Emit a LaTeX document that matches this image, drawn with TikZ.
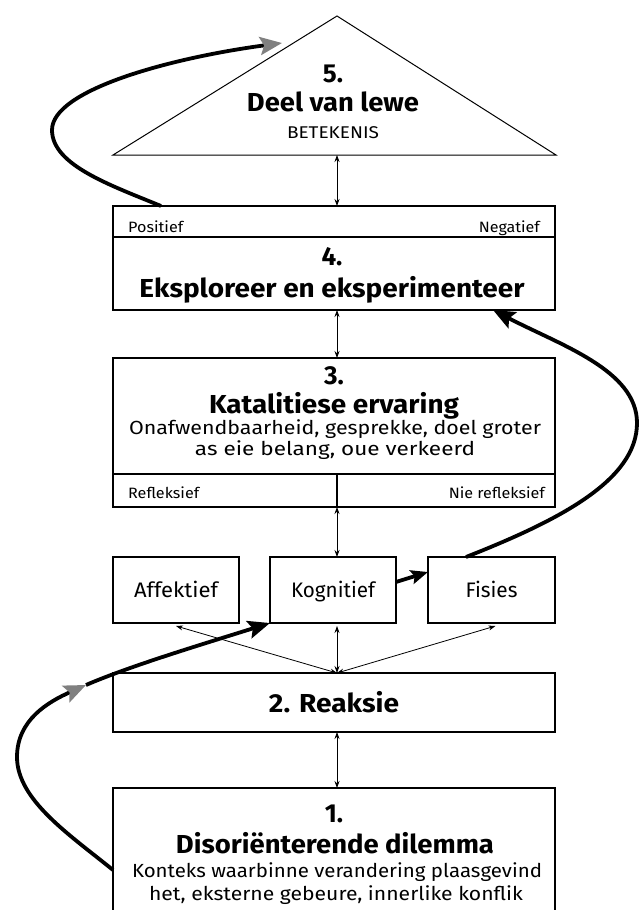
\documentclass[tikz,border=0pt]{standalone}
\usepackage{graphicx}
\usepackage{fontspec}
\setmainfont{Fira Sans}
\usetikzlibrary{arrows.meta,calc}
\newcommand{\fitw}[2]{\resizebox{#1}{\height}{#2}}
\begin{document}
\begin{tikzpicture}[x=1pt,y=-1pt,
  box/.style={draw, line width=1.2pt, inner sep=0pt, outer sep=0pt, anchor=north west},
  thinarr/.style={line width=0.8pt, {Stealth[length=7pt,width=5pt]}-{Stealth[length=7pt,width=5pt]}},
  thickarr/.style={line width=3.8pt},
  bigtip/.style={-{Stealth[length=22pt,width=18pt,inset=4pt]}},
  graytip/.style={-{Stealth[length=22pt,width=18pt,inset=4pt,color=black!50]}},
  ttl/.style={font=\fontsize{26}{30}\selectfont\bfseries, anchor=base, inner sep=0pt},
  bod/.style={font=\fontsize{19}{23}\selectfont, anchor=base, inner sep=0pt},
  sml/.style={font=\fontsize{15}{18}\selectfont, inner sep=0pt},
  lbl/.style={font=\fontsize{21}{25}\selectfont, inner sep=0pt, anchor=base}]
\useasboundingbox (0,0) rectangle (639,910);
\fill[white] (0,0) rectangle (639,910);

% triangle
\coordinate (apex) at (337,16);
\coordinate (tl) at (113,155);
\coordinate (tr) at (556,155);
\coordinate (tb) at (337,155);
\coordinate (cx) at (337,0);
\draw[line width=1pt, line join=miter] (tl) -- (apex) -- (tr) -- cycle;
\node[ttl] (t5a) at (333,82) {5.};
\node[ttl] (t5b) at (333,111) {\fitw{172pt}{Deel van lewe}};
\node[font=\fontsize{17}{20}\selectfont, anchor=base, inner sep=0pt] (t5c) at (333,138) {\fitw{92pt}{BETEKENIS}};

% box 4
\node[box, minimum width=442pt, minimum height=31pt] (b4a) at (113,206) {};
\node[box, minimum width=442pt, minimum height=73pt] (b4b) at (113,237) {};
\node[sml, anchor=base west] (pos) at (128,232) {\fitw{55pt}{Positief}};
\node[sml, anchor=base east] (neg) at (540,232) {\fitw{61pt}{Negatief}};
\node[ttl] (t4a) at (332,265) {4.};
\node[ttl] (t4b) at (332,297) {\fitw{385pt}{Eksploreer en eksperimenteer}};

% box 3
\node[box, minimum width=442pt, minimum height=116pt] (b3a) at (113,358) {};
\node[box, minimum width=442pt, minimum height=33pt] (b3b) at (113,474) {};
\draw[line width=1.2pt] (b3b.north -| cx) -- (b3b.south -| cx);
\node[ttl] (t3a) at (334,384) {3.};
\node[ttl] (t3b) at (334,413) {\fitw{250pt}{Katalitiese ervaring}};
\node[bod] (t3c) at (335,434) {\fitw{412pt}{Onafwendbaarheid, gesprekke, doel groter}};
\node[bod] (t3d) at (335,455) {\fitw{280pt}{as eie belang, oue verkeerd}};
\node[sml, anchor=base west] (refl) at (128,498) {\fitw{71pt}{Refleksief}};
\node[sml, anchor=base east] (nrefl) at (545,498) {\fitw{96pt}{Nie refleksief}};

% small boxes
\node[box, minimum width=126pt, minimum height=66pt] (aff) at (113,557) {};
\node[box, minimum width=126pt, minimum height=66pt] (kog) at (270,557) {};
\node[box, minimum width=127pt, minimum height=66pt] (fis) at (428,557) {};
\node[lbl] (laff) at ($(aff.center)+(0,7)$) {\fitw{84pt}{Affektief}};
\node[lbl] (lkog) at ($(kog.center)+(0,7)$) {\fitw{84pt}{Kognitief}};
\node[lbl] (lfis) at ($(fis.center)+(0,7)$) {\fitw{52pt}{Fisies}};

% box 2
\node[box, minimum width=442pt, minimum height=59pt] (b2) at (113,673) {};
\node[ttl] (t2) at (334,712) {\fitw{130pt}{2. Reaksie}};

% box 1
\node[box, minimum width=442pt, minimum height=150pt] (b1) at (113,788) {};
\node[ttl] (t1a) at (334,822) {1.};
\node[ttl] (t1b) at (335,853) {\fitw{318pt}{Disoriënterende dilemma}};
\node[bod] (t1c) at (337,877) {\fitw{410pt}{Konteks waarbinne verandering plaasgevind}};
\node[bod] (t1d) at (336,900) {\fitw{374pt}{het, eksterne gebeure, innerlike konflik}};

% thin arrows
\draw[thinarr] (tb) -- (b4a.north -| cx);
\draw[thinarr] (b4b.south -| cx) -- (b3a.north -| cx);
\draw[thinarr] (b3b.south -| cx) -- (kog.north -| cx);
\draw[thinarr] (b2.north -| cx) -- ($(kog.south -| cx)+(0,3)$);
\draw[thinarr] (b2.north -| cx) -- ($(aff.south)+(0,3)$);
\draw[thinarr] (b2.north -| cx) -- ($(fis.south)+(4,3)$);
\draw[thinarr] (b2.south -| cx) -- (b1.north -| cx);

% thick curved arrows
\coordinate (m1) at (86,685);
\draw[thickarr, bigtip] (m1) .. controls (130,666) and (200,645) .. (kog.south west);
\draw[thickarr, graytip] ($(b1.north west)+(0,82)$) .. controls (70,835) and (17,800) .. (17,757) .. controls (17,720) and (48,702) .. (m1);

\draw[thickarr, -{Stealth[length=17pt,width=14pt,inset=3pt]}] ($(kog.east)+(0,-8)$) -- ($(fis.west)+(0,-18)$);

\draw[thickarr, bigtip] ($(fis.north west)+(38,0)$) .. controls (560,520) and (637,480) .. (637,423) .. controls (637,370) and (560,345) .. ($(b4b.south west)+(380,0)$);

\coordinate (t5) at (282,43);
\draw[thickarr, graytip] ($(b4a.north west)+(48,0)$) .. controls (110,185) and (52,165) .. (52,130) .. controls (52,90) and (170,58) .. (t5);
\end{tikzpicture}
\end{document}
